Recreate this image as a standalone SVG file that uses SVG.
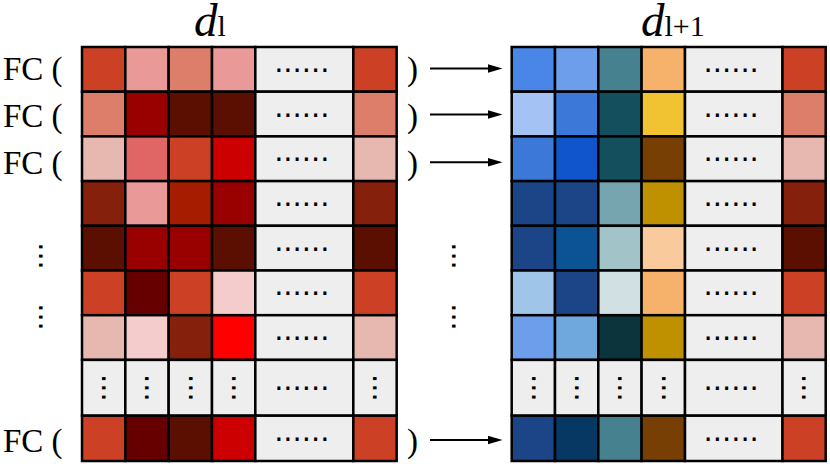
<svg xmlns="http://www.w3.org/2000/svg" width="830" height="464" viewBox="0 0 830 464">
<defs>
<style>
.c{stroke:#000;stroke-width:2.5}
.g{fill:#eeeeee}
.d{font-family:"DejaVu Sans",sans-serif;font-size:29px;text-anchor:middle;fill:#000}
.t{font-family:"Liberation Serif","Times New Roman",serif;font-size:33px;fill:#000}
.h{font-family:"Liberation Serif","Times New Roman",serif;fill:#000}
.a{stroke:#000;stroke-width:2;fill:none}
</style>
<marker id="ah" markerUnits="userSpaceOnUse" markerWidth="15" markerHeight="10" refX="0" refY="4.2" orient="auto">
<path d="M0,0 L14.5,4.2 L0,8.4 z" fill="#000"/>
</marker>
</defs>
<rect width="830" height="464" fill="#fff"/>

<g id="title-dl"><text class="h" x="194" y="35.5" font-size="47"><tspan font-style="italic">d</tspan><tspan font-size="30">l</tspan></text></g>
<g id="title-dl1"><text class="h" x="641" y="35.5" font-size="47"><tspan font-style="italic">d</tspan><tspan font-size="30">l+1</tspan></text></g>

<g id="labels-left">
<text class="t" x="3" y="79.5">FC (</text>
<text class="t" x="3" y="127">FC (</text>
<text class="t" x="3" y="174">FC (</text>
<text class="t" x="3" y="452">FC (</text>
<text class="t" x="407" y="79.5">)</text>
<text class="t" x="407" y="127">)</text>
<text class="t" x="407" y="174">)</text>
<text class="t" x="407" y="452">)</text>
<text class="d" transform="translate(40.7,256) rotate(90)" x="0" y="1.75">...</text>
<text class="d" transform="translate(40.7,317) rotate(90)" x="0" y="1.75">...</text>
<text class="d" transform="translate(453.3,256) rotate(90)" x="0" y="1.75">...</text>
<text class="d" transform="translate(453.3,317) rotate(90)" x="0" y="1.75">...</text>
</g>

<g id="connectors">
<line class="a" x1="430" y1="68.5" x2="488" y2="68.5" marker-end="url(#ah)"/>
<line class="a" x1="430" y1="114.5" x2="488" y2="114.5" marker-end="url(#ah)"/>
<line class="a" x1="430" y1="162.3" x2="488" y2="162.3" marker-end="url(#ah)"/>
<line class="a" x1="430" y1="440" x2="488" y2="440" marker-end="url(#ah)"/>
</g>

<g id="grid-dl">
<g id="dl-row1">
<rect class="c" x="82" y="47" width="43.33" height="44.7" fill="#cc4125"/>
<rect class="c" x="125.33" y="47" width="43.34" height="44.7" fill="#ea9999"/>
<rect class="c" x="168.67" y="47" width="43.33" height="44.7" fill="#dd7e6b"/>
<rect class="c" x="212" y="47" width="43.33" height="44.7" fill="#ea9999"/>
<rect class="c g" x="255.33" y="47" width="98" height="44.7"/>
<rect class="c" x="353.33" y="47" width="43.34" height="44.7" fill="#cc4125"/>
<text class="d" x="301.8" y="71.85">......</text>
</g>
<g id="dl-row2">
<rect class="c" x="82" y="91.7" width="43.33" height="44.7" fill="#dd7e6b"/>
<rect class="c" x="125.33" y="91.7" width="43.34" height="44.7" fill="#990000"/>
<rect class="c" x="168.67" y="91.7" width="43.33" height="44.7" fill="#5b0f00"/>
<rect class="c" x="212" y="91.7" width="43.33" height="44.7" fill="#5b0f00"/>
<rect class="c g" x="255.33" y="91.7" width="98" height="44.7"/>
<rect class="c" x="353.33" y="91.7" width="43.34" height="44.7" fill="#dd7e6b"/>
<text class="d" x="301.8" y="116.55">......</text>
</g>
<g id="dl-row3">
<rect class="c" x="82" y="136.4" width="43.33" height="44.7" fill="#e6b8af"/>
<rect class="c" x="125.33" y="136.4" width="43.34" height="44.7" fill="#e06666"/>
<rect class="c" x="168.67" y="136.4" width="43.33" height="44.7" fill="#cc4125"/>
<rect class="c" x="212" y="136.4" width="43.33" height="44.7" fill="#cc0000"/>
<rect class="c g" x="255.33" y="136.4" width="98" height="44.7"/>
<rect class="c" x="353.33" y="136.4" width="43.34" height="44.7" fill="#e6b8af"/>
<text class="d" x="301.8" y="161.25">......</text>
</g>
<g id="dl-row4">
<rect class="c" x="82" y="181.1" width="43.33" height="44.7" fill="#85200c"/>
<rect class="c" x="125.33" y="181.1" width="43.34" height="44.7" fill="#ea9999"/>
<rect class="c" x="168.67" y="181.1" width="43.33" height="44.7" fill="#a61c00"/>
<rect class="c" x="212" y="181.1" width="43.33" height="44.7" fill="#990000"/>
<rect class="c g" x="255.33" y="181.1" width="98" height="44.7"/>
<rect class="c" x="353.33" y="181.1" width="43.34" height="44.7" fill="#85200c"/>
<text class="d" x="301.8" y="205.95">......</text>
</g>
<g id="dl-row5">
<rect class="c" x="82" y="225.8" width="43.33" height="44.7" fill="#5b0f00"/>
<rect class="c" x="125.33" y="225.8" width="43.34" height="44.7" fill="#990000"/>
<rect class="c" x="168.67" y="225.8" width="43.33" height="44.7" fill="#990000"/>
<rect class="c" x="212" y="225.8" width="43.33" height="44.7" fill="#5b0f00"/>
<rect class="c g" x="255.33" y="225.8" width="98" height="44.7"/>
<rect class="c" x="353.33" y="225.8" width="43.34" height="44.7" fill="#5b0f00"/>
<text class="d" x="301.8" y="250.65">......</text>
</g>
<g id="dl-row6">
<rect class="c" x="82" y="270.5" width="43.33" height="44.7" fill="#cc4125"/>
<rect class="c" x="125.33" y="270.5" width="43.34" height="44.7" fill="#660000"/>
<rect class="c" x="168.67" y="270.5" width="43.33" height="44.7" fill="#cc4125"/>
<rect class="c" x="212" y="270.5" width="43.33" height="44.7" fill="#f4cccc"/>
<rect class="c g" x="255.33" y="270.5" width="98" height="44.7"/>
<rect class="c" x="353.33" y="270.5" width="43.34" height="44.7" fill="#cc4125"/>
<text class="d" x="301.8" y="295.35">......</text>
</g>
<g id="dl-row7">
<rect class="c" x="82" y="315.2" width="43.33" height="44.7" fill="#e6b8af"/>
<rect class="c" x="125.33" y="315.2" width="43.34" height="44.7" fill="#f4cccc"/>
<rect class="c" x="168.67" y="315.2" width="43.33" height="44.7" fill="#85200c"/>
<rect class="c" x="212" y="315.2" width="43.33" height="44.7" fill="#ff0000"/>
<rect class="c g" x="255.33" y="315.2" width="98" height="44.7"/>
<rect class="c" x="353.33" y="315.2" width="43.34" height="44.7" fill="#e6b8af"/>
<text class="d" x="301.8" y="340.05">......</text>
</g>
<g id="dl-row8">
<rect class="c g" x="82" y="359.9" width="43.33" height="55.8"/>
<rect class="c g" x="125.33" y="359.9" width="43.34" height="55.8"/>
<rect class="c g" x="168.67" y="359.9" width="43.33" height="55.8"/>
<rect class="c g" x="212" y="359.9" width="43.33" height="55.8"/>
<rect class="c g" x="255.33" y="359.9" width="98" height="55.8"/>
<rect class="c g" x="353.33" y="359.9" width="43.34" height="55.8"/>
<text class="d" x="301.8" y="390.3">......</text>
<text class="d" transform="translate(103.67,387.8) rotate(90)" x="0" y="1.75">...</text>
<text class="d" transform="translate(147,387.8) rotate(90)" x="0" y="1.75">...</text>
<text class="d" transform="translate(190.33,387.8) rotate(90)" x="0" y="1.75">...</text>
<text class="d" transform="translate(233.67,387.8) rotate(90)" x="0" y="1.75">...</text>
<text class="d" transform="translate(375,387.8) rotate(90)" x="0" y="1.75">...</text>
</g>
<g id="dl-row9">
<rect class="c" x="82" y="415.7" width="43.33" height="45.3" fill="#cc4125"/>
<rect class="c" x="125.33" y="415.7" width="43.34" height="45.3" fill="#660000"/>
<rect class="c" x="168.67" y="415.7" width="43.33" height="45.3" fill="#5b0f00"/>
<rect class="c" x="212" y="415.7" width="43.33" height="45.3" fill="#cc0000"/>
<rect class="c g" x="255.33" y="415.7" width="98" height="45.3"/>
<rect class="c" x="353.33" y="415.7" width="43.34" height="45.3" fill="#cc4125"/>
<text class="d" x="301.8" y="440.85">......</text>
</g>
</g>

<g id="grid-dl1">
<g id="dl1-row1">
<rect class="c" x="511.7" y="47" width="43.3" height="44.7" fill="#4a86e8"/>
<rect class="c" x="555" y="47" width="43.3" height="44.7" fill="#6d9eeb"/>
<rect class="c" x="598.3" y="47" width="43.3" height="44.7" fill="#45818e"/>
<rect class="c" x="641.6" y="47" width="43.4" height="44.7" fill="#f6b26b"/>
<rect class="c g" x="685" y="47" width="97.5" height="44.7"/>
<rect class="c" x="782.5" y="47" width="43.2" height="44.7" fill="#cc4125"/>
<text class="d" x="731.2" y="71.85">......</text>
</g>
<g id="dl1-row2">
<rect class="c" x="511.7" y="91.7" width="43.3" height="44.7" fill="#a4c2f4"/>
<rect class="c" x="555" y="91.7" width="43.3" height="44.7" fill="#3c78d8"/>
<rect class="c" x="598.3" y="91.7" width="43.3" height="44.7" fill="#134f5c"/>
<rect class="c" x="641.6" y="91.7" width="43.4" height="44.7" fill="#f1c232"/>
<rect class="c g" x="685" y="91.7" width="97.5" height="44.7"/>
<rect class="c" x="782.5" y="91.7" width="43.2" height="44.7" fill="#dd7e6b"/>
<text class="d" x="731.2" y="116.55">......</text>
</g>
<g id="dl1-row3">
<rect class="c" x="511.7" y="136.4" width="43.3" height="44.7" fill="#3c78d8"/>
<rect class="c" x="555" y="136.4" width="43.3" height="44.7" fill="#1155cc"/>
<rect class="c" x="598.3" y="136.4" width="43.3" height="44.7" fill="#134f5c"/>
<rect class="c" x="641.6" y="136.4" width="43.4" height="44.7" fill="#783f04"/>
<rect class="c g" x="685" y="136.4" width="97.5" height="44.7"/>
<rect class="c" x="782.5" y="136.4" width="43.2" height="44.7" fill="#e6b8af"/>
<text class="d" x="731.2" y="161.25">......</text>
</g>
<g id="dl1-row4">
<rect class="c" x="511.7" y="181.1" width="43.3" height="44.7" fill="#1c4587"/>
<rect class="c" x="555" y="181.1" width="43.3" height="44.7" fill="#1c4587"/>
<rect class="c" x="598.3" y="181.1" width="43.3" height="44.7" fill="#76a5af"/>
<rect class="c" x="641.6" y="181.1" width="43.4" height="44.7" fill="#bf9000"/>
<rect class="c g" x="685" y="181.1" width="97.5" height="44.7"/>
<rect class="c" x="782.5" y="181.1" width="43.2" height="44.7" fill="#85200c"/>
<text class="d" x="731.2" y="205.95">......</text>
</g>
<g id="dl1-row5">
<rect class="c" x="511.7" y="225.8" width="43.3" height="44.7" fill="#1c4587"/>
<rect class="c" x="555" y="225.8" width="43.3" height="44.7" fill="#0b5394"/>
<rect class="c" x="598.3" y="225.8" width="43.3" height="44.7" fill="#a2c4c9"/>
<rect class="c" x="641.6" y="225.8" width="43.4" height="44.7" fill="#f9cb9c"/>
<rect class="c g" x="685" y="225.8" width="97.5" height="44.7"/>
<rect class="c" x="782.5" y="225.8" width="43.2" height="44.7" fill="#5b0f00"/>
<text class="d" x="731.2" y="250.65">......</text>
</g>
<g id="dl1-row6">
<rect class="c" x="511.7" y="270.5" width="43.3" height="44.7" fill="#9fc5e8"/>
<rect class="c" x="555" y="270.5" width="43.3" height="44.7" fill="#1c4587"/>
<rect class="c" x="598.3" y="270.5" width="43.3" height="44.7" fill="#d0e0e3"/>
<rect class="c" x="641.6" y="270.5" width="43.4" height="44.7" fill="#f6b26b"/>
<rect class="c g" x="685" y="270.5" width="97.5" height="44.7"/>
<rect class="c" x="782.5" y="270.5" width="43.2" height="44.7" fill="#cc4125"/>
<text class="d" x="731.2" y="295.35">......</text>
</g>
<g id="dl1-row7">
<rect class="c" x="511.7" y="315.2" width="43.3" height="44.7" fill="#6d9eeb"/>
<rect class="c" x="555" y="315.2" width="43.3" height="44.7" fill="#6fa8dc"/>
<rect class="c" x="598.3" y="315.2" width="43.3" height="44.7" fill="#0c343d"/>
<rect class="c" x="641.6" y="315.2" width="43.4" height="44.7" fill="#bf9000"/>
<rect class="c g" x="685" y="315.2" width="97.5" height="44.7"/>
<rect class="c" x="782.5" y="315.2" width="43.2" height="44.7" fill="#e6b8af"/>
<text class="d" x="731.2" y="340.05">......</text>
</g>
<g id="dl1-row8">
<rect class="c g" x="511.7" y="359.9" width="43.3" height="55.8"/>
<rect class="c g" x="555" y="359.9" width="43.3" height="55.8"/>
<rect class="c g" x="598.3" y="359.9" width="43.3" height="55.8"/>
<rect class="c g" x="641.6" y="359.9" width="43.4" height="55.8"/>
<rect class="c g" x="685" y="359.9" width="97.5" height="55.8"/>
<rect class="c g" x="782.5" y="359.9" width="43.2" height="55.8"/>
<text class="d" x="731.2" y="390.3">......</text>
<text class="d" transform="translate(533.35,387.8) rotate(90)" x="0" y="1.75">...</text>
<text class="d" transform="translate(576.65,387.8) rotate(90)" x="0" y="1.75">...</text>
<text class="d" transform="translate(619.95,387.8) rotate(90)" x="0" y="1.75">...</text>
<text class="d" transform="translate(663.3,387.8) rotate(90)" x="0" y="1.75">...</text>
<text class="d" transform="translate(804.1,387.8) rotate(90)" x="0" y="1.75">...</text>
</g>
<g id="dl1-row9">
<rect class="c" x="511.7" y="415.7" width="43.3" height="45.3" fill="#1c4587"/>
<rect class="c" x="555" y="415.7" width="43.3" height="45.3" fill="#073763"/>
<rect class="c" x="598.3" y="415.7" width="43.3" height="45.3" fill="#45818e"/>
<rect class="c" x="641.6" y="415.7" width="43.4" height="45.3" fill="#783f04"/>
<rect class="c g" x="685" y="415.7" width="97.5" height="45.3"/>
<rect class="c" x="782.5" y="415.7" width="43.2" height="45.3" fill="#cc4125"/>
<text class="d" x="731.2" y="440.85">......</text>
</g>
</g>
</svg>
